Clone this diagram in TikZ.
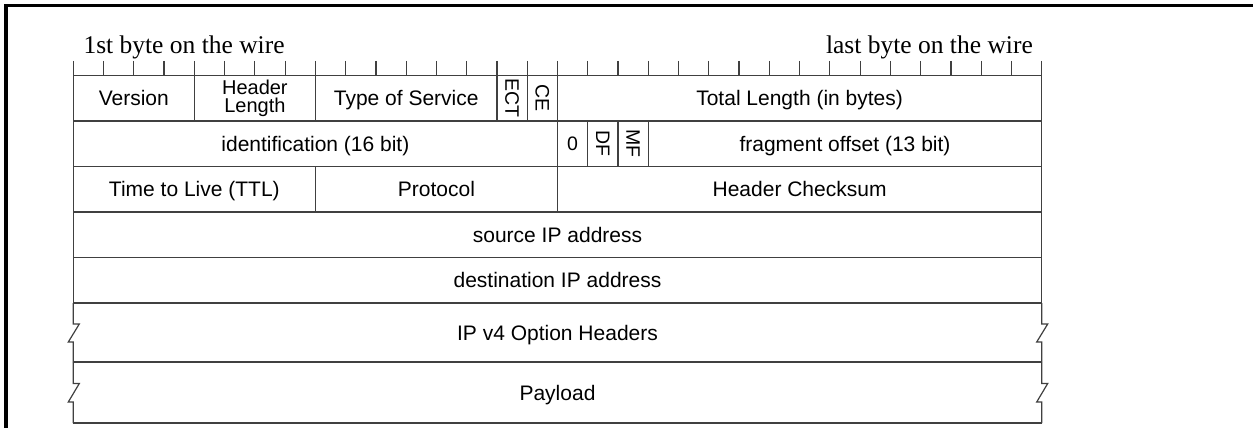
\documentclass[tikz,border=0pt]{standalone}
\usepackage{fontspec}
\usepackage{graphicx}
\setmainfont{Liberation Sans}
\newfontfamily\wirefont{Liberation Serif}
\definecolor{linegray}{HTML}{404040}
\def\bitw{30.2625}
\def\xorg{73.3}
\def\xend{1041.7}
\newcommand\fld[7][]{%
  \node[cellbase,#1,minimum width={(#4-#3)*\bitw*1pt},minimum height={(#6-#5)*1pt}]
    (#2) at ({\xorg+(#3+#4)/2*\bitw},{(#5+#6)/2}) {#7};}
\begin{document}
\begin{tikzpicture}[x=1pt,y=-1pt,
  cellbase/.style={draw=linegray,line width=1.2pt,inner sep=0pt,outer sep=0pt,
    font=\fontsize{21}{25}\selectfont,text height=15pt,text depth=0pt},
  hl/.style={text height={},text depth={},align=center,font=\fontsize{20}{18}\selectfont},
  rot/.style={text height={},text depth={},font=\fontsize{19.5}{22}\selectfont},
  small/.style={font=\fontsize{19.5}{22}\selectfont,text height=14pt},
  tickmark/.style={draw=linegray,line width=1.2pt},
  zig/.style={draw=linegray,line width=1.2pt,line join=miter},
  wirelabel/.style={inner sep=0pt,font=\wirefont\fontsize{25.5}{29}\selectfont},
  plain/.style={inner sep=0pt,font=\fontsize{21}{25}\selectfont,text height=15pt,text depth=0pt}]
\useasboundingbox (0,0) rectangle (1253,428);
\fill[white] (0,0) rectangle (1253,428);
% frame
\draw[line width=3.5pt] (6,440) -- (6,5.5) -- (1270,5.5);
% labels
\node[wirelabel,anchor=base west] (first) at (83.3,53.3) {1st byte on the wire};
\node[wirelabel,anchor=base east] (last) at (1033,53.3) {last byte on the wire};
% ticks
\foreach \i in {0,...,32}
  \draw[tickmark] ({\xorg+\bitw*\i},61) -- ({\xorg+\bitw*\i},75.5);
% row 1
\fld{version}{0}{4}{75.5}{121}{Version}
\fld[hl]{hlen}{4}{8}{75.5}{121}{Header\\Length}
\fld{tos}{8}{14}{75.5}{121}{Type of Service}
\fld[rot]{ect}{14}{15}{75.5}{121}{\rotatebox{-90}{ECT}}
\fld[rot]{ce}{15}{16}{75.5}{121}{\rotatebox{-90}{CE}}
\fld{tlen}{16}{32}{75.5}{121}{Total Length (in bytes)}
% row 2
\fld{ident}{0}{16}{121}{166.5}{identification (16 bit)}
\fld[small]{zero}{16}{17}{121}{166.5}{0}
\fld[rot]{df}{17}{18}{121}{166.5}{\rotatebox{-90}{DF}}
\fld[rot]{mf}{18}{19}{121}{166.5}{\rotatebox{-90}{MF}}
\fld{frag}{19}{32}{121}{166.5}{fragment offset (13 bit)}
% row 3
\fld{ttl}{0}{8}{166.5}{212}{Time to Live (TTL)}
\fld{proto}{8}{16}{166.5}{212}{Protocol}
\fld{chk}{16}{32}{166.5}{212}{Header Checksum}
% rows 4,5
\fld{src}{0}{32}{212}{257.5}{source IP address}
\fld{dst}{0}{32}{257.5}{303}{destination IP address}
% options and payload
\coordinate (optL) at (\xorg,303);
\coordinate (optR) at (\xend,303);
\coordinate (payL) at (\xorg,362);
\coordinate (payR) at (\xend,362);
\coordinate (endL) at (\xorg,423);
\coordinate (endR) at (\xend,423);
\draw[zig] (optL) -- ++(0,21) -- ++(6,0) -- ++(-11,18) -- ++(5,0) -- (payL);
\draw[zig] (optR) -- ++(0,21) -- ++(6,0) -- ++(-11,18) -- ++(5,0) -- (payR);
\draw[zig] (payL) -- ++(0,21.5) -- ++(6,0) -- ++(-11,18.5) -- ++(5,0) -- (endL);
\draw[zig] (payR) -- ++(0,21.5) -- ++(6,0) -- ++(-11,18.5) -- ++(5,0) -- (endR);
\draw[zig] (payL) -- (payR);
\draw[zig] (endL) -- (endR);
\node[plain] (opts) at ({(\xorg+\xend)/2},332.5) {IP v4 Option Headers};
\node[plain] (payload) at ({(\xorg+\xend)/2},392.5) {Payload};
\end{tikzpicture}
\end{document}
